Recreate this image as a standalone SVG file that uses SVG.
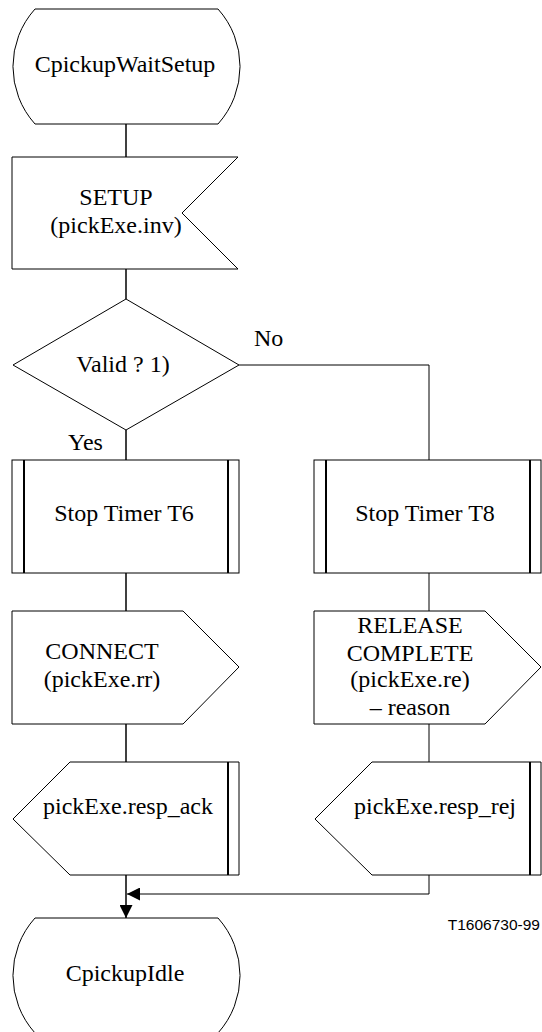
<svg xmlns="http://www.w3.org/2000/svg" width="542" height="1032" viewBox="0 0 542 1032">
<style>
.s{fill:#fff;stroke:#000;stroke-width:1}
.bar{stroke:#000;stroke-width:2;fill:none}
.c{fill:none;stroke:#000;stroke-width:1.5}
.c2{fill:none;stroke:#000;stroke-width:1}
.t{font-family:"Liberation Serif","Times New Roman",serif;font-size:24px;fill:#000;text-anchor:middle}
.l{font-family:"Liberation Serif","Times New Roman",serif;font-size:24px;fill:#000}
.ref{font-family:"Liberation Sans",Arial,sans-serif;font-size:15.5px;fill:#000;text-anchor:end}
</style>
<defs>
<marker id="ah" markerUnits="userSpaceOnUse" markerWidth="13" markerHeight="13" refX="13" refY="6.5" orient="auto">
<path d="M0,0 L13,6.5 L0,13 Z" fill="#000"/>
</marker>
</defs>
<g id="connectors">
<path class="c" d="M126,124 V157"/>
<path class="c" d="M126,269 V299"/>
<path class="c2" d="M239,365 H429 V460"/>
<path class="c" d="M126,430 V460"/>
<path class="c" d="M126,573 V611"/>
<path class="c2" d="M429,573 V611"/>
<path class="c" d="M126,724 V762"/>
<path class="c2" d="M429,724 V762"/>
<path class="c" d="M126,875 V918" marker-end="url(#ah)"/>
<path class="c2" d="M429,875 V894 H127" marker-end="url(#ah)"/>
<text class="l" x="254" y="346">No</text>
<text class="l" x="68" y="450">Yes</text>
</g>
<g id="start">
<path class="s" d="M35,9 L218,9 A86,86 0 0 1 218,124 L35,124 A86,86 0 0 1 35,9 Z"/>
<text class="t" x="125" y="72">CpickupWaitSetup</text>
</g>
<g id="setup">
<path class="s" d="M12,157 L238,157 L182,213 L238,269 L12,269 Z"/>
<text class="t" x="116" y="205">SETUP</text>
<text class="t" x="116" y="233">(pickExe.inv)</text>
</g>
<g id="valid">
<path class="s" d="M126,299 L239,365 L126,430 L13,365 Z"/>
<text class="t" x="123" y="372">Valid ? 1)</text>
</g>
<g id="stopT6">
<rect class="s" x="12" y="460" width="227" height="113"/>
<path class="bar" d="M24,460 V573 M228,460 V573"/>
<text class="t" x="124" y="521">Stop Timer T6</text>
</g>
<g id="stopT8">
<rect class="s" x="314" y="460" width="227" height="113"/>
<path class="bar" d="M326,460 V573 M530,460 V573"/>
<text class="t" x="425" y="521">Stop Timer T8</text>
</g>
<g id="connect">
<path class="s" d="M12,611 L183,611 L239,667 L183,724 L12,724 Z"/>
<text class="t" x="102" y="659">CONNECT</text>
<text class="t" x="102" y="687">(pickExe.rr)</text>
</g>
<g id="release">
<path class="s" d="M314,611 L485,611 L541,667 L485,724 L314,724 Z"/>
<text class="t" x="410" y="633">RELEASE</text>
<text class="t" x="410" y="661">COMPLETE</text>
<text class="t" x="410" y="687">(pickExe.re)</text>
<text class="t" x="410" y="715">– reason</text>
</g>
<g id="respAck">
<path class="s" d="M70,762 L239,762 L239,875 L70,875 L13,819 Z"/>
<path class="bar" d="M228,762 V875"/>
<text class="t" x="128" y="814">pickExe.resp_ack</text>
</g>
<g id="respRej">
<path class="s" d="M372,762 L541,762 L541,875 L372,875 L315,819 Z"/>
<path class="bar" d="M530,762 V875"/>
<text class="t" x="435" y="814">pickExe.resp_rej</text>
</g>
<g id="idle">
<path class="s" d="M35,918 L218,918 A86,86 0 0 1 218,1033 L35,1033 A86,86 0 0 1 35,918 Z"/>
<text class="t" x="125" y="981">CpickupIdle</text>
</g>
<text class="ref" x="540" y="930">T1606730-99</text>
</svg>
